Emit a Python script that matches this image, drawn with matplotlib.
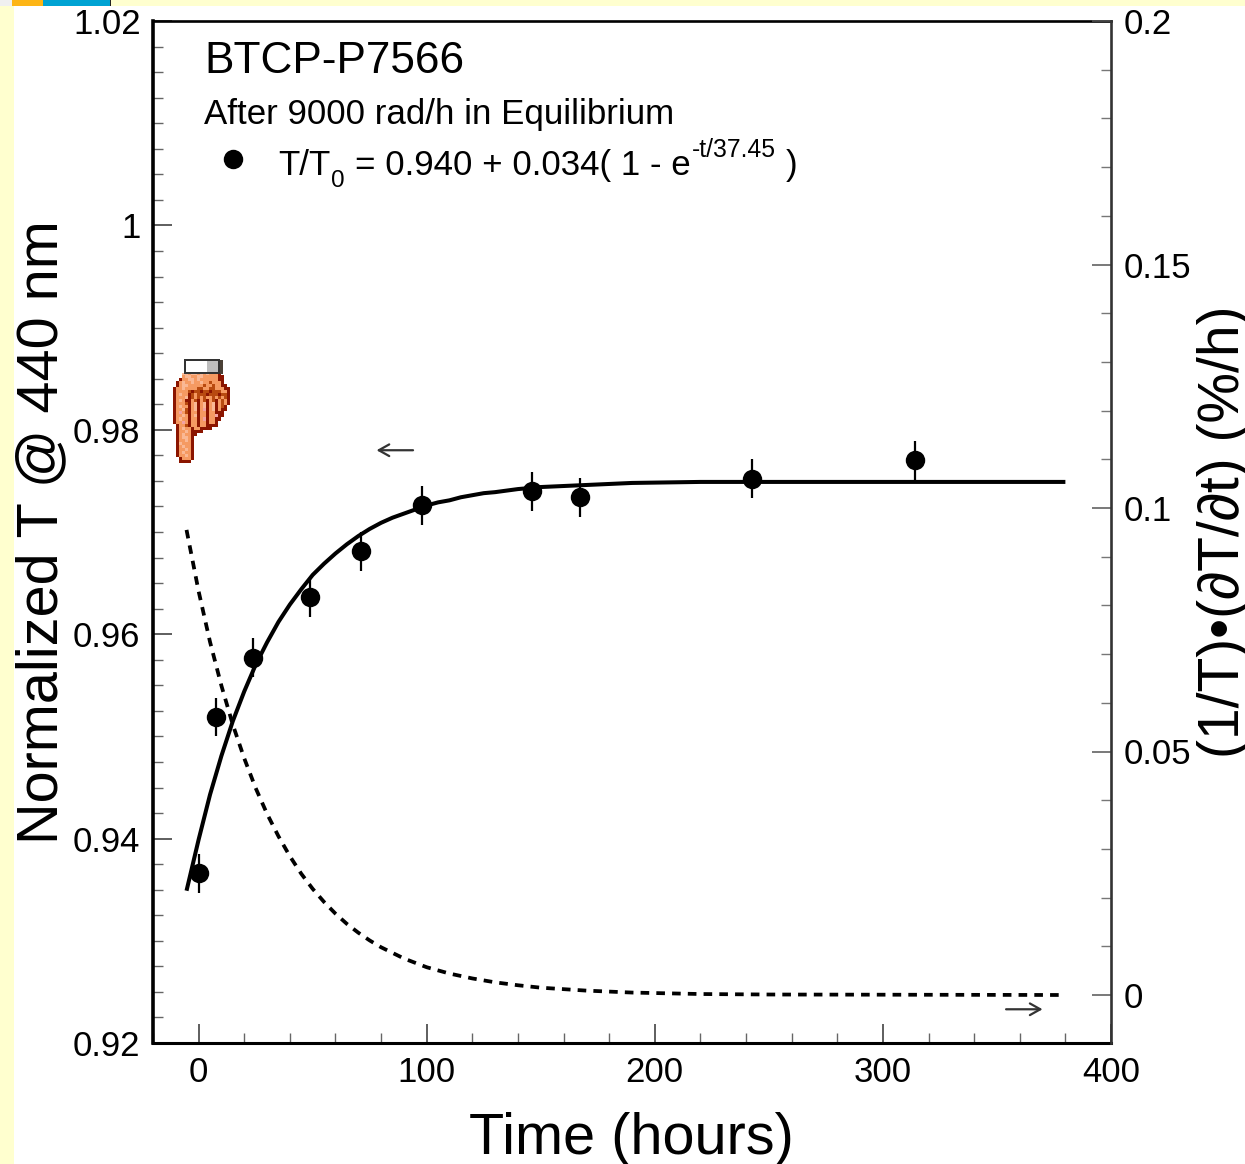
import matplotlib
matplotlib.use("Agg")
import matplotlib.pyplot as plt
import numpy as np
from matplotlib.patches import Rectangle
from matplotlib.lines import Line2D
from matplotlib.colors import to_rgba
from matplotlib.ticker import MultipleLocator

plt.rcParams['font.family'] = ['Liberation Sans', 'DejaVu Sans']

W, H = 1245, 1164

# measured points
time_h = [0, 7.5, 24, 49, 71, 98, 146, 167, 242.5, 314]
trans = [0.9366, 0.9519, 0.9577, 0.9636, 0.9681, 0.9726, 0.9740, 0.9734, 0.9752, 0.9770]
trans_err = [0.0019] * 10

# solid curve (left axis)
fit_t = [-5.3, 0, 5, 10, 15, 20, 25, 30, 35, 40, 45, 50, 55, 60, 65, 70, 75, 80, 85, 90, 95, 100,
         105, 110, 115, 120, 125, 130, 140, 150, 160, 170, 190, 220, 380]
fit_v = [0.9349, 0.9399, 0.9443, 0.9481, 0.9515, 0.9544, 0.9570, 0.9592, 0.9612, 0.9629,
         0.9644, 0.9658, 0.9669, 0.9679, 0.9688, 0.9696, 0.9703, 0.9709, 0.9714, 0.9718,
         0.9722, 0.9726, 0.9729, 0.9731, 0.9734, 0.9736, 0.9738, 0.9739, 0.9742, 0.9744,
         0.9745, 0.9746, 0.9748, 0.9749, 0.9749]

# dashed curve (right axis)
rate_t = [-5.3, 0, 5, 10, 15, 20, 25, 30, 35, 40, 45, 50, 55, 60, 65, 70, 75, 80, 90, 100,
          110, 120, 130, 140, 150, 170, 190, 220, 250, 380]
rate_v = [0.0955, 0.0829, 0.0725, 0.0635, 0.0555, 0.0486, 0.0425, 0.0372, 0.0326, 0.0285,
          0.0249, 0.0218, 0.0191, 0.0167, 0.0146, 0.0128, 0.0112, 0.0098, 0.0075, 0.0057,
          0.0044, 0.0034, 0.0026, 0.0020, 0.0015, 0.0009, 0.0005, 0.0002, 0.0001, 0.0]

x_ticks = [0, 100, 200, 300, 400]
x_labels = ['0', '100', '200', '300', '400']
left_ticks = [0.92, 0.94, 0.96, 0.98, 1.0, 1.02]
left_labels = ['0.92', '0.94', '0.96', '0.98', '1', '1.02']
right_ticks = [0, 0.05, 0.1, 0.15, 0.2]
right_labels = ['0', '0.05', '0.1', '0.15', '0.2']

hand_rows = [
    "...LLOLLOLOLOOOD...",
    "...OLLOOLLOOOOODD..",
    "..DOOLLOLOOOOOODD..",
    ".DOLOOLOOLOOROOOD..",
    ".DOLLOOOOOROOROODD.",
    "DOOLOOOORROORROOODD",
    "DOOOORDRRDRRDRRROOD",
    "DOLOODRORRRDRRRDRRD",
    "DOOOLDROROROORORORD",
    "DOLODDORDORDORDOROD",
    "DOOORDOLDOLDOLDOROD",
    "DOLOODOLDOLDOLDORD.",
    "DOOLRDOLDOPDOLDODD.",
    "DOPORDOODOODOODDD..",
    "DOOLODOLDOODOOPDD..",
    "DOLOODOODOPDOODD...",
    "DOOPODOODOODOOD....",
    ".DOORDOODOODDDD....",
    ".DOLOODOODDDD......",
    ".DOOLODDDD.........",
    ".DOLOODD...........",
    ".DOLLOD............",
    ".DOOLOD............",
    ".DLOOOD............",
    ".DOLOOD............",
    ".DOOLOD............",
    ".DOLOOD............",
    ".DOOLOD............",
    "..DOOOD............",
    "..DDDD.............",
]
hand_colors = {'.': (0, 0, 0, 0), 'D': to_rgba('#8B1500'), 'R': to_rgba('#B84A10'),
               'O': to_rgba('#F59A62'), 'L': to_rgba('#FAB894'), 'P': to_rgba('#F3A3A3')}

fig = plt.figure(figsize=(W / 100, H / 100), dpi=100, facecolor='white')


def fx(x):
    return x / W


def fy(y):
    return 1 - y / H


def frect(x0, y0, x1, y1, color, z=0):
    fig.add_artist(Rectangle((fx(x0), fy(y1)), (x1 - x0) / W, (y1 - y0) / H,
                             transform=fig.transFigure, facecolor=color,
                             edgecolor='none', zorder=z))


# slide background remnants
frect(0, 0, 14, H, '#FFFFCF')
frect(0, 0, W, 6, '#FFFFCF')
frect(0, 0, 12, 6, '#F0F0F0')
frect(12, 0, 43, 6, '#FDB515')
frect(43, 0, 110, 6, '#00A3D3')
frect(110, 0, 111, 6, '#222222')

ax = fig.add_axes([153 / W, 1 - 1043 / H, (1111 - 153) / W, (1043 - 21) / H], zorder=2)
ax.patch.set_alpha(0)
ax.set_xlim(-20, 400)
ax.set_ylim(0.92, 1.02)

ax.plot(fit_t, fit_v, color='black', lw=2.9, solid_capstyle='butt', solid_joinstyle='round')
ax.errorbar(time_h, trans, yerr=trans_err, fmt='o', color='black', ms=14, mew=0,
            elinewidth=1.6, capsize=0)

ax.set_xticks(x_ticks)
ax.set_xticklabels(x_labels)
ax.xaxis.set_minor_locator(MultipleLocator(20))
ax.set_yticks(left_ticks)
ax.set_yticklabels(left_labels)
ax.yaxis.set_minor_locator(MultipleLocator(0.0025))
ax.tick_params(which='major', direction='in', length=13.5, width=1.1, color='#333333',
               labelsize=25, pad=9)
ax.tick_params(which='minor', direction='in', length=7, width=1.0, color='#666666')
ax.tick_params(axis='x', which='major', pad=9)
ax.spines['left'].set_linewidth(2.6)
ax.spines['bottom'].set_linewidth(2.2)
ax.spines['top'].set_linewidth(1.9)
ax.spines['right'].set_visible(False)

ax2 = ax.twinx()
ax2.patch.set_alpha(0)
ax2.set_ylim(-48 / 4870, 974 / 4870)
ax2.plot(rate_t, rate_v, color='black', lw=2.7, linestyle=(0, (2.3, 1.9)), dash_capstyle='butt')
ax2.set_yticks(right_ticks)
ax2.set_yticklabels(right_labels)
ax2.yaxis.set_minor_locator(MultipleLocator(0.01))
ax2.tick_params(which='major', direction='in', length=13.5, width=1.1, color='#555555',
                labelsize=25, pad=9)
ax2.tick_params(which='minor', direction='in', length=7, width=1.0, color='#777777')
ax2.spines['right'].set_linewidth(1.9)
ax2.spines['right'].set_color('#333333')
for s in ('left', 'bottom', 'top'):
    ax2.spines[s].set_visible(False)

# direction arrows
arrow = dict(arrowstyle='->,head_length=0.75,head_width=0.42', color='#333333', lw=1.6,
             shrinkA=0, shrinkB=0)
ax.annotate('', xy=(78, 0.9780), xytext=(94, 0.9780), arrowprops=arrow)
ax.annotate('', xy=(370, 0.9233), xytext=(354, 0.9233), arrowprops=arrow)

# axis titles
fig.text(fx(631), fy(1139), 'Time (hours)', fontsize=41.5, ha='center', va='center', zorder=5)
fig.text(fx(42), fy(532), 'Normalized T @ 440 nm', fontsize=41.5, rotation=90,
         ha='center', va='center', zorder=5)
fig.text(fx(1224), fy(532), '(1/T)•(∂T/∂t) (%/h)', fontsize=41, rotation=90,
         ha='center', va='center', zorder=5)

# annotations
fig.text(fx(204), fy(73), 'BTCP-P7566', fontsize=31.8, ha='left', va='baseline', zorder=5)
fig.text(fx(204), fy(124), 'After 9000 rad/h in Equilibrium', fontsize=25.1, ha='left', va='baseline', zorder=5)
fig.add_artist(Line2D([fx(233)], [fy(159)], marker='o', ms=14, mew=0, color='black',
                      transform=fig.transFigure, zorder=5))
fig.text(fx(278), fy(175), 'T/T', fontsize=25.1, ha='left', va='baseline', zorder=5)
fig.text(fx(331), fy(187), '0', fontsize=17.5, ha='left', va='baseline', zorder=5)
fig.text(fx(355), fy(175), '= 0.940 + 0.034( 1 - e', fontsize=25.1, ha='left', va='baseline', zorder=5)
fig.text(fx(692), fy(157), '-t/37.45', fontsize=17.8, ha='left', va='baseline', zorder=5)
fig.text(fx(786), fy(175), ')', fontsize=25.1, ha='left', va='baseline', zorder=5)

# pointing-hand icon
hand_img = np.array([[hand_colors[c] for c in row] for row in hand_rows])
hax = fig.add_axes([173.3 / W, 1 - 463.3 / H, 57 / W, 90 / H], zorder=3)
hax.imshow(hand_img, interpolation='nearest', aspect='auto')
hax.axis('off')

frect(183.5, 358.5, 220, 373.5, '#333333', z=6)
frect(185.5, 360.5, 218, 371.5, 'white', z=6.1)
frect(207, 361, 218, 371.5, '#BDBDBD', z=6.2)
frect(220, 360, 223, 374, '#4A4036', z=6.2)

fig.savefig('out.png', dpi=100, facecolor='white')
